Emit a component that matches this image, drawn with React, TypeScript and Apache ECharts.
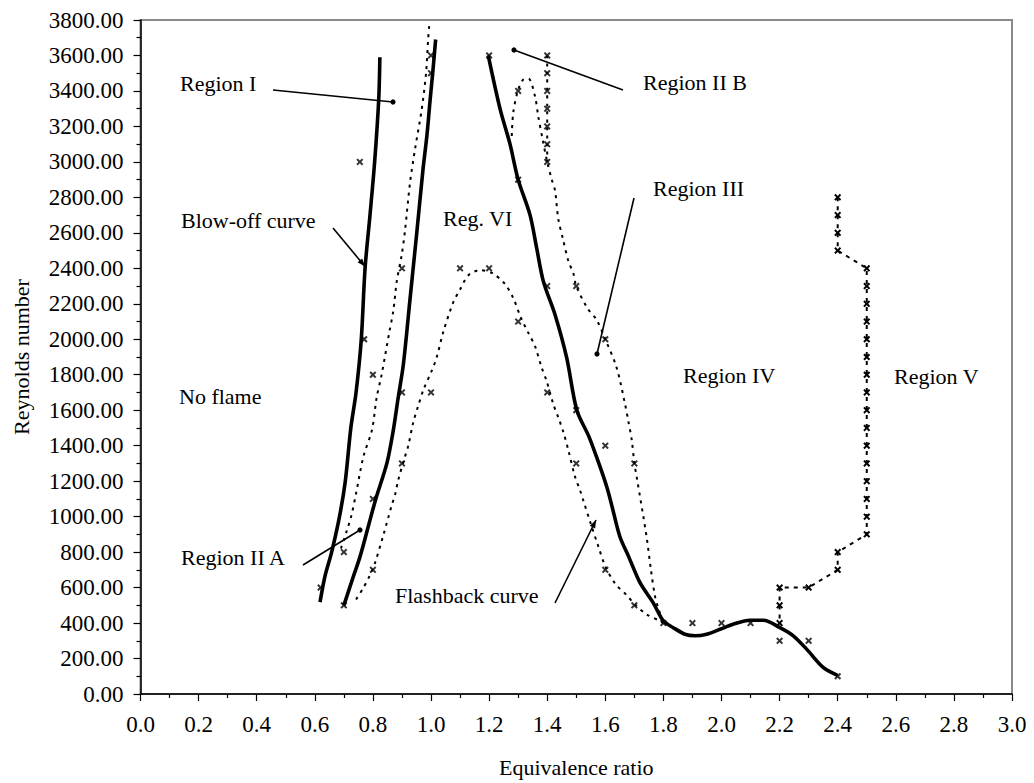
import React, { useEffect, useRef } from "react";
import * as echarts from "echarts";

// ---- data ----
const xTicks = [0, 0.2, 0.4, 0.6, 0.8, 1.0, 1.2, 1.4, 1.6, 1.8, 2.0, 2.2, 2.4, 2.6, 2.8, 3.0];

// Blow-off curve (thick solid, left)
const blowOff: number[][] = [
  [0.618, 518], [0.635, 664], [0.658, 800], [0.685, 1000], [0.705, 1200], [0.724, 1500],
  [0.742, 1700], [0.76, 2000], [0.773, 2400], [0.79, 2700], [0.806, 3000], [0.82, 3350], [0.824, 3590],
];
// Second thick solid curve
const thick2: number[][] = [
  [0.70, 500], [0.733, 664], [0.756, 776], [0.785, 950], [0.81, 1100], [0.848, 1300], [0.87, 1485],
  [0.887, 1670], [0.905, 1860], [0.928, 2230], [0.951, 2600], [0.972, 2950], [0.986, 3150],
  [0.997, 3350], [1.008, 3540], [1.016, 3690],
];
// Dotted curve between the two thick curves
const dottedA: number[][] = [
  [0.69, 820], [0.71, 920], [0.725, 1000], [0.742, 1130], [0.767, 1336], [0.797, 1490], [0.813, 1672],
  [0.83, 1800], [0.857, 2045], [0.87, 2157], [0.882, 2325], [0.899, 2474], [0.91, 2605], [0.928, 2885],
  [0.945, 3072], [0.968, 3296], [0.983, 3500], [0.99, 3688], [0.994, 3770],
];
// Flashback dotted curve
const flashback: number[][] = [
  [0.742, 533], [0.767, 598], [0.788, 664], [0.807, 738], [0.835, 890], [0.865, 1065], [0.876, 1121],
  [0.887, 1205], [0.91, 1336], [0.922, 1401], [0.939, 1532], [0.955, 1620], [0.975, 1720], [1.002, 1820],
  [1.02, 1900], [1.042, 2040], [1.077, 2210], [1.10, 2280], [1.128, 2360], [1.169, 2390], [1.214, 2370],
  [1.255, 2310], [1.283, 2232], [1.31, 2120], [1.335, 2036], [1.358, 1961], [1.381, 1840], [1.398, 1765],
  [1.421, 1634], [1.438, 1560], [1.455, 1480], [1.473, 1373], [1.496, 1224], [1.513, 1149], [1.524, 1093],
  [1.55, 960], [1.576, 832], [1.6, 720], [1.635, 620], [1.671, 561], [1.705, 500], [1.742, 449],
  [1.788, 412], [1.8, 400],
];
// Thick solid descending curve (right)
const thick3: number[][] = [
  [1.197, 3600], [1.2375, 3300], [1.272, 3100], [1.30, 2900], [1.341, 2700], [1.364, 2512], [1.387, 2325],
  [1.427, 2138], [1.467, 1896], [1.502, 1600], [1.544, 1450], [1.58, 1290], [1.605, 1168], [1.622, 1065],
  [1.65, 888], [1.68, 776], [1.72, 626], [1.765, 514], [1.80, 412], [1.834, 374], [1.874, 337],
  [1.909, 328], [1.949, 337], [1.995, 365], [2.04, 393], [2.098, 416], [2.144, 416], [2.201, 374],
  [2.247, 328], [2.293, 253], [2.35, 150], [2.40, 104],
];
// Region III dotted curve
const dottedIII: number[][] = [
  [1.278, 3146], [1.283, 3277], [1.298, 3395], [1.315, 3460], [1.335, 3470], [1.358, 3370], [1.369, 3258],
  [1.385, 3120], [1.4, 3000], [1.415, 2904], [1.427, 2838], [1.438, 2680], [1.455, 2560], [1.473, 2440],
  [1.49, 2372], [1.5, 2300], [1.538, 2176], [1.57, 2110], [1.6, 2000], [1.639, 1840], [1.668, 1634],
  [1.679, 1541], [1.691, 1433], [1.7, 1300], [1.708, 1224], [1.742, 888], [1.757, 701], [1.771, 552],
  [1.782, 486], [1.8, 400],
];
// Column of points at phi = 1.4
const column14: number[][] = [
  [1.4, 3600], [1.4, 3500], [1.4, 3400], [1.4, 3300], [1.4, 3200], [1.4, 3100], [1.4, 3000],
];
// Region V boundary (dotted with markers)
const regionV: number[][] = [
  [2.4, 2800], [2.4, 2700], [2.4, 2600], [2.4, 2500], [2.5, 2400], [2.5, 2300], [2.5, 2200], [2.5, 2100],
  [2.5, 2000], [2.5, 1900], [2.5, 1800], [2.5, 1700], [2.5, 1600], [2.5, 1500], [2.5, 1400], [2.5, 1300],
  [2.5, 1200], [2.5, 1100], [2.5, 1000], [2.5, 900], [2.4, 800], [2.4, 700], [2.3, 600], [2.2, 600],
  [2.2, 500], [2.2, 400],
];
// Stand-alone measured points
const points: number[][] = [
  [0.62, 600], [0.70, 800], [0.70, 500], [0.80, 700], [0.80, 1100], [0.90, 1300], [0.90, 1700],
  [1.00, 1700], [0.80, 1800], [0.77, 2000], [0.90, 2400], [0.755, 3000], [1.00, 3500], [1.00, 3600],
  [1.10, 2400], [1.20, 2400], [1.30, 2100], [1.40, 1700], [1.50, 1300], [1.60, 700], [1.70, 500],
  [1.80, 400], [1.20, 3600], [1.30, 3400], [1.30, 2900], [1.40, 2300], [1.50, 2300], [1.50, 1600],
  [1.60, 2000], [1.60, 1400], [1.70, 1300], [1.90, 400], [2.00, 400], [2.10, 400], [2.20, 300],
  [2.30, 300], [2.40, 100],
];

const FONT = "'Liberation Serif', 'Times New Roman', serif";
const X_SYMBOL = "path://M0,2L2,0L5,3L8,0L10,2L7,5L10,8L8,10L5,7L2,10L0,8L3,5Z";

function arrowHead(x1: number, y1: number, x2: number, y2: number, len = 8, half = 3) {
  const dx = x2 - x1, dy = y2 - y1;
  const n = Math.sqrt(dx * dx + dy * dy);
  const ux = dx / n, uy = dy / n;
  const bx = x2 - ux * len, by = y2 - uy * len;
  return {
    type: "polygon",
    shape: { points: [[x2, y2], [bx - uy * half, by + ux * half], [bx + uy * half, by - ux * half]] },
    style: { fill: "#000" },
  };
}

function label(text: string, x: number, y: number) {
  return {
    type: "text",
    x,
    y,
    style: { text, fill: "#000", fontSize: 22, fontFamily: FONT, align: "left", verticalAlign: "middle" },
  };
}
function seg(x1: number, y1: number, x2: number, y2: number) {
  return { type: "line", shape: { x1, y1, x2, y2 }, style: { stroke: "#000", lineWidth: 1.6 } };
}
function dot(cx: number, cy: number) {
  return { type: "circle", shape: { cx, cy, r: 2.6 }, style: { fill: "#000" } };
}

export default function App() {
  const ref = useRef<HTMLDivElement>(null);
  useEffect(() => {
    if (!ref.current) return;
    const chart = echarts.init(ref.current, undefined, { renderer: "svg" });
    const thick = (data: number[][]) => ({
      type: "line", data, showSymbol: false, symbol: "none", smooth: 0.3,
      lineStyle: { color: "#000", width: 3.6 }, z: 3,
    });
    const dotted = (data: number[][], dash: number[] = [3, 5]) => ({
      type: "line", data, showSymbol: false, symbol: "none", smooth: 0.3,
      lineStyle: { color: "#000", width: 2, type: dash }, z: 2,
    });
    chart.setOption({
      animation: false,
      backgroundColor: "#fff",
      grid: {
        left: 140.5, right: 22, top: 20, bottom: 84.5, show: true,
        borderColor: "#8a8a8a", borderWidth: 2, backgroundColor: "transparent",
      },
      xAxis: {
        type: "value", min: 0, max: 3, interval: 0.2,
        name: "Equivalence ratio", nameLocation: "middle", nameGap: 62,
        nameTextStyle: { fontSize: 22, fontFamily: FONT, color: "#000" },
        axisLine: { show: true, lineStyle: { color: "#000", width: 1.5 } },
        axisTick: { show: true, inside: false, length: 7, lineStyle: { color: "#000", width: 1.2 } },
        minorTick: { show: true, splitNumber: 2, length: 4, lineStyle: { color: "#000", width: 1.2 } },
        splitLine: { show: false },
        axisLabel: {
          margin: 19, fontSize: 23, fontFamily: FONT, color: "#000",
          formatter: (v: number) => v.toFixed(1),
        },
      },
      yAxis: {
        type: "value", min: 0, max: 3800, interval: 200,
        name: "Reynolds number", nameLocation: "middle", nameGap: 108, nameRotate: 90,
        nameTextStyle: { fontSize: 22, fontFamily: FONT, color: "#000" },
        axisLine: { show: true, lineStyle: { color: "#000", width: 1.5 } },
        axisTick: { show: true, inside: false, length: 7, lineStyle: { color: "#000", width: 1.2 } },
        minorTick: { show: true, splitNumber: 2, length: 4, lineStyle: { color: "#000", width: 1.2 } },
        splitLine: { show: false },
        axisLabel: {
          margin: 17, fontSize: 23, fontFamily: FONT, color: "#000",
          formatter: (v: number) => v.toFixed(2),
        },
      },
      series: [
        thick(blowOff),
        thick(thick2),
        thick(thick3),
        dotted(dottedA),
        dotted(flashback),
        dotted(dottedIII),
        dotted(column14),
        {
          type: "line", data: regionV, symbol: X_SYMBOL, symbolSize: 7, showSymbol: true,
          itemStyle: { color: "#000" }, lineStyle: { color: "#000", width: 2, type: [4, 5] }, z: 4,
        },
        {
          type: "scatter", data: column14, symbol: X_SYMBOL, symbolSize: 7,
          itemStyle: { color: "#000" }, z: 4,
        },
        {
          type: "scatter", data: points, symbol: X_SYMBOL, symbolSize: 7,
          itemStyle: { color: "#000" }, z: 4,
        },
      ],
      graphic: [
        label("Region I", 180, 83),
        seg(273, 90, 393, 102), dot(393, 102),
        label("Blow-off curve", 181, 220),
        seg(333, 228, 365, 266.5), arrowHead(333, 228, 365, 266.5),
        label("Reg. VI", 443, 218),
        label("No flame", 179, 396),
        label("Region II A", 181, 557),
        seg(303, 565, 360, 530), dot(360, 530),
        label("Region II B", 643, 82),
        seg(514, 50, 623, 90), dot(514, 50),
        label("Region III", 653, 188),
        seg(634, 198, 597, 354), dot(597, 354),
        label("Region IV", 683, 375),
        label("Region V", 894, 376),
        label("Flashback curve", 395, 595),
        seg(555, 603, 596, 520), arrowHead(555, 603, 596, 520),
      ],
    } as any);
    return () => chart.dispose();
  }, []);
  return (
    <div
      ref={ref}
      style={{ position: "absolute", left: 0, top: 0, width: 1034, height: 783, background: "#fff" }}
    />
  );
}
